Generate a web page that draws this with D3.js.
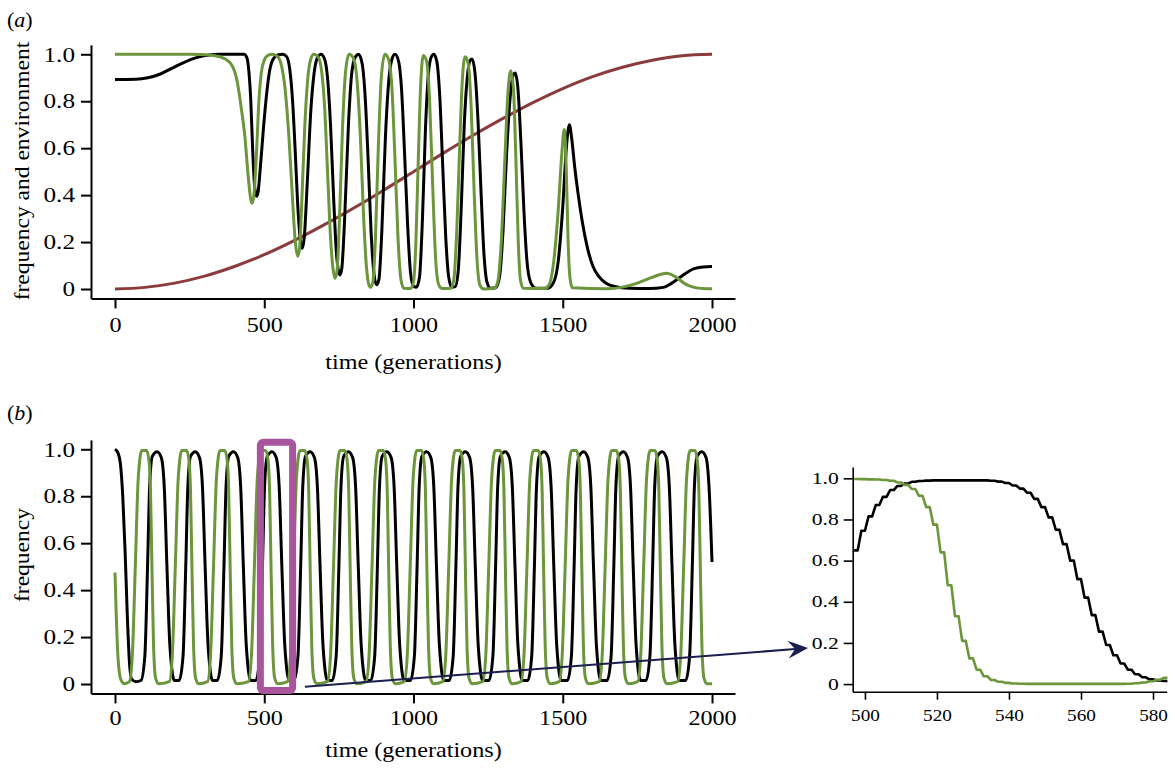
<!DOCTYPE html>
<html><head><meta charset="utf-8">
<script src="https://cdn.jsdelivr.net/npm/d3@7"></script>
<style>body{margin:0;background:#fff}svg{display:block}</style>
</head><body><svg id="c" width="1175" height="771"></svg>
<script>
// ---------- data ----------
const xTicksMain = [0, 500, 1000, 1500, 2000];
const yTicksMain = [0, 0.2, 0.4, 0.6, 0.8, 1.0];
const xTicksInset = [500, 520, 540, 560, 580];
const yTicksInset = [0, 0.2, 0.4, 0.6, 0.8, 1.0];

// panel (a): environment (red)
const aEnvironment = [[0,0],[100,.007],[200,.025],[300,.055],[400,.096],[500,.146],[600,.206],[700,.273],[800,.345],[900,.421],[1000,.5],[1100,.579],[1200,.655],[1300,.727],[1400,.794],[1500,.854],[1600,.905],[1700,.945],[1800,.975],[1900,.994],[2000,1]];
// panel (a): black genotype
const aBlack = [[0,.893],[70,.894],[110,.9],[150,.915],[190,.94],[230,.965],[270,.985],[310,.996],[350,1],[432,1],[442,.985],[449,.92],[455,.8],[461,.6],[467,.45],[474,.395],[479,.41],[487,.52],[497,.68],[507,.82],[518,.93],[530,.98],[545,.997],[562,1],[575,.99],[585,.94],[595,.8],[604,.58],[612,.36],[620,.22],[627,.173],[634,.22],[644,.45],[656,.76],[668,.93],[680,.99],[690,1],[702,.98],[712,.9],[722,.7],[732,.4],[742,.15],[749,.075],[754,.06],[760,.09],[770,.32],[782,.7],[794,.93],[806,.99],[816,1],[828,.96],[838,.82],[848,.55],[858,.24],[868,.06],[876,.018],[884,.04],[894,.25],[906,.65],[918,.9],[928,.98],[938,1],[950,.97],[960,.85],[970,.58],[980,.28],[990,.07],[1000,.012],[1010,.008],[1020,.05],[1030,.3],[1040,.68],[1050,.92],[1060,.99],[1068,1],[1078,.97],[1088,.82],[1098,.52],[1108,.22],[1118,.05],[1128,.008],[1140,.01],[1150,.08],[1160,.35],[1170,.7],[1180,.9],[1190,.975],[1196,.98],[1206,.92],[1216,.72],[1226,.42],[1236,.15],[1246,.03],[1258,.003],[1275,.005],[1288,.05],[1300,.25],[1312,.58],[1324,.82],[1334,.91],[1341,.92],[1350,.85],[1360,.62],[1370,.33],[1380,.12],[1392,.03],[1410,.003],[1450,.003],[1470,.03],[1485,.12],[1500,.35],[1512,.6],[1522,.7],[1530,.64],[1540,.52],[1552,.4],[1565,.29],[1580,.19],[1600,.1],[1620,.055],[1645,.025],[1670,.012],[1725,.003],[1790,.002],[1837,.007],[1865,.025],[1893,.05],[1938,.086],[1970,.094],[2000,.096]];
// panel (a): green genotype
const aGreen = [[0,1],[250,1],[330,.995],[370,.98],[395,.945],[410,.88],[422,.78],[435,.65],[447,.47],[455,.38],[460,.365],[466,.41],[474,.58],[482,.8],[490,.92],[500,.975],[512,.995],[528,1],[545,.99],[558,.95],[570,.85],[582,.66],[594,.4],[604,.2],[612,.14],[618,.17],[626,.38],[636,.7],[646,.9],[656,.98],[666,1],[680,.99],[692,.93],[702,.78],[712,.5],[722,.22],[730,.09],[737,.046],[744,.08],[752,.3],[762,.68],[772,.92],[784,1],[798,.985],[810,.9],[822,.65],[832,.33],[842,.1],[850,.02],[856,.007],[864,.03],[872,.2],[882,.6],[892,.9],[904,1],[916,.98],[928,.85],[938,.55],[948,.22],[958,.04],[968,.003],[990,.002],[1000,.03],[1008,.2],[1016,.55],[1024,.87],[1033,.995],[1044,.97],[1054,.8],[1064,.45],[1074,.13],[1084,.02],[1095,.002],[1125,.003],[1135,.04],[1145,.25],[1155,.62],[1164,.9],[1173,.99],[1183,.96],[1193,.78],[1203,.42],[1213,.12],[1223,.015],[1235,0],[1270,.002],[1282,.03],[1294,.2],[1306,.55],[1316,.83],[1326,.93],[1335,.85],[1343,.55],[1351,.2],[1358,.04],[1368,.003],[1440,.002],[1455,.02],[1470,.12],[1485,.34],[1497,.58],[1505,.68],[1512,.5],[1518,.2],[1524,.05],[1532,.005],[1650,.001],[1700,.008],[1750,.025],[1800,.05],[1848,.067],[1880,.05],[1910,.022],[1940,.007],[1970,.002],[2000,.001]];

// panel (b): black genotype
const bBlack = [[0,1],[10,.985],[18,.94],[26,.8],[34,.56],[41,.3],[48,.1],[56,.02],[70,.01],
[87,.015],[100,.12],[109,.5],[116,.84],[125,.97],[141,.99],[155,.965],[165,.84],[174,.5],[184,.16],[199,.015],
[215,.015],[228,.12],[237,.5],[244,.84],[253,.97],[269,.99],[283,.965],[293,.84],[302,.5],[312,.16],[327,.015],
[343,.015],[356,.12],[365,.5],[372,.84],[381,.97],[397,.99],[411,.965],[421,.84],[430,.5],[440,.16],[455,.015],
[472,.015],[485,.12],[494,.5],[501,.84],[510,.97],[526,.99],[540,.965],[550,.84],[559,.5],[569,.16],[584,.015],
[600,.015],[613,.12],[622,.5],[629,.84],[638,.97],[654,.99],[668,.965],[678,.84],[687,.5],[697,.16],[712,.015],
[728,.015],[741,.12],[750,.5],[757,.84],[766,.97],[782,.99],[796,.965],[806,.84],[815,.5],[825,.16],[840,.015],
[857,.015],[870,.12],[879,.5],[886,.84],[895,.97],[911,.99],[925,.965],[935,.84],[944,.5],[954,.16],[969,.015],
[990,.015],[1003,.12],[1012,.5],[1019,.84],[1028,.97],[1044,.99],[1058,.965],[1068,.84],[1077,.5],[1087,.16],[1102,.015],
[1120,.015],[1133,.12],[1142,.5],[1149,.84],[1158,.97],[1174,.99],[1188,.965],[1198,.84],[1207,.5],[1217,.16],[1232,.015],
[1253,.015],[1266,.12],[1275,.5],[1282,.84],[1291,.97],[1307,.99],[1321,.965],[1331,.84],[1340,.5],[1350,.16],[1365,.015],
[1383,.015],[1396,.12],[1405,.5],[1412,.84],[1421,.97],[1437,.99],[1451,.965],[1461,.84],[1470,.5],[1480,.16],[1495,.015],
[1516,.015],[1529,.12],[1538,.5],[1545,.84],[1554,.97],[1570,.99],[1584,.965],[1594,.84],[1603,.5],[1613,.16],[1628,.015],
[1649,.015],[1662,.12],[1671,.5],[1678,.84],[1687,.97],[1703,.99],[1717,.965],[1727,.84],[1736,.5],[1746,.16],[1761,.015],
[1779,.015],[1792,.12],[1801,.5],[1808,.84],[1817,.97],[1833,.99],[1847,.965],[1857,.84],[1866,.5],[1876,.16],[1891,.015],
[1912,.015],[1925,.12],[1934,.5],[1941,.84],[1950,.97],[1966,.99],[1980,.965],[1990,.84],[2000,.52]];
// panel (b): green genotype
const bGreen = [[0,.475],[4,.3],[8,.16],[12,.08],[17,.03],[24,.008],[32,.001],
[48,.01],[58,.12],[68,.5],[78,.88],[90,.995],[106,.995],[114,.95],[119,.82],[124,.48],[129,.17],[136,.025],[146,.001],
[182,.01],[192,.12],[202,.5],[212,.88],[224,.995],[240,.995],[248,.95],[253,.82],[258,.48],[263,.17],[270,.025],[280,.001],
[310,.01],[320,.12],[330,.5],[340,.88],[352,.995],[368,.995],[376,.95],[381,.82],[386,.48],[391,.17],[398,.025],[408,.001],
[447,.01],[457,.12],[467,.5],[477,.88],[489,.995],[505,.995],[513,.95],[518,.82],[523,.48],[528,.17],[535,.025],[545,.001],
[578,.01],[588,.12],[598,.5],[608,.88],[620,.995],[636,.995],[644,.95],[649,.82],[654,.48],[659,.17],[666,.025],[676,.001],
[712,.01],[722,.12],[732,.5],[742,.88],[754,.995],[770,.995],[778,.95],[783,.82],[788,.48],[793,.17],[800,.025],[810,.001],
[841,.01],[851,.12],[861,.5],[871,.88],[883,.995],[899,.995],[907,.95],[912,.82],[917,.48],[922,.17],[929,.025],[939,.001],
[969,.01],[979,.12],[989,.5],[999,.88],[1011,.995],[1027,.995],[1035,.95],[1040,.82],[1045,.48],[1050,.17],[1057,.025],[1067,.001],
[1098,.01],[1108,.12],[1118,.5],[1128,.88],[1140,.995],[1156,.995],[1164,.95],[1169,.82],[1174,.48],[1179,.17],[1186,.025],[1196,.001],
[1232,.01],[1242,.12],[1252,.5],[1262,.88],[1274,.995],[1290,.995],[1298,.95],[1303,.82],[1308,.48],[1313,.17],[1320,.025],[1330,.001],
[1360,.01],[1370,.12],[1380,.5],[1390,.88],[1402,.995],[1418,.995],[1426,.95],[1431,.82],[1436,.48],[1441,.17],[1448,.025],[1458,.001],
[1488,.01],[1498,.12],[1508,.5],[1518,.88],[1530,.995],[1546,.995],[1554,.95],[1559,.82],[1564,.48],[1569,.17],[1576,.025],[1586,.001],
[1622,.01],[1632,.12],[1642,.5],[1652,.88],[1664,.995],[1680,.995],[1688,.95],[1693,.82],[1698,.48],[1703,.17],[1710,.025],[1720,.001],
[1751,.01],[1761,.12],[1771,.5],[1781,.88],[1793,.995],[1809,.995],[1817,.95],[1822,.82],[1827,.48],[1832,.17],[1839,.025],[1849,.001],
[1885,.01],[1895,.12],[1905,.5],[1915,.88],[1927,.995],[1943,.995],[1951,.95],[1956,.82],[1961,.48],[1966,.17],[1973,.025],[1983,.001],[2000,.001]];

// inset: generations 497..583 (every 2nd), frequencies
const insetGens = [497,499,501,503,505,507,509,511,513,515,517,519,521,523,525,527,529,531,533,535,537,539,541,543,545,547,549,551,553,555,557,559,561,563,565,567,569,571,573,575,577,579,581,583];
const insetBlack = [.65,.745,.815,.87,.91,.943,.963,.975,.983,.987,.989,.99,.99,.99,.99,.99,.99,.99,.99,.988,.984,.977,.965,.95,.93,.9,.86,.81,.75,.68,.6,.51,.42,.335,.255,.19,.14,.1,.07,.048,.033,.023,.018,.015];
const insetGreen = [.997,.996,.995,.994,.992,.988,.98,.968,.948,.915,.86,.775,.64,.48,.33,.21,.125,.07,.038,.02,.011,.006,.003,.002,.001,.001,.001,.001,.001,.001,.001,.001,.001,.001,.001,.001,.001,.001,.002,.004,.008,.014,.021,.03];

const zoomWindow = {t0: 487, t1: 595, v0: -0.028, v1: 1.03};

// ---------- drawing ----------
const svg = d3.select('#c');
const FONT = '"Liberation Serif","Times New Roman",serif';
const C_GREEN = '#6b963c', C_BLACK = '#000', C_RED = '#8b3b3b', C_PURPLE = '#a8559e', C_NAVY = '#1c1f4d';
const fmt = d => d === 0 ? '0' : d3.format('.1f')(d);

function styleAxis(g, fs, w, stretch) {
  g.attr('font-family', FONT).attr('font-size', fs);
  g.select('.domain').attr('stroke-width', w);
  g.selectAll('.tick line').attr('stroke-width', w);
  g.selectAll('.tick text').attr('fill', '#000').attr('data-stretch', stretch);
}

function mainPanel(top, series, ylabel, tag, o) {
  const x = d3.scaleLinear().domain([-80.4, 2077]).range([91, 735]);
  const y = d3.scaleLinear().domain([-0.04, 1.04]).range([top + 298.4, top + 44.9]);
  const gx = svg.append('g').attr('transform', `translate(0,${y(-0.04)})`)
    .call(d3.axisBottom(x).tickValues(xTicksMain).tickSize(10).tickSizeOuter(0).tickPadding(o.xpad).tickFormat(d3.format('d')));
  styleAxis(gx, 21, 2, 1.15);
  const gy = svg.append('g').attr('transform', `translate(${x(-80.4)},0)`)
    .call(d3.axisLeft(y).tickValues(yTicksMain).tickSize(10).tickSizeOuter(0).tickPadding(6).tickFormat(fmt));
  styleAxis(gy, 21, 2, 1.2);
  const line = d3.line().x(d => x(d[0])).y(d => y(d[1])).curve(d3.curveMonotoneX);
  series.forEach(s => {
    svg.append('path').datum(s.data).attr('d', line).attr('fill', 'none')
      .attr('stroke', s.color).attr('stroke-width', 3).attr('stroke-linejoin', 'round');
  });
  svg.append('text').attr('x', x(1000)).attr('y', o.xlabY).attr('text-anchor', 'middle')
    .attr('font-family', FONT).attr('font-size', 21).attr('data-stretch', 1.15).text('time (generations)');
  svg.append('text').attr('transform', `translate(29,${o.ylabC}) rotate(-90)`).attr('text-anchor', 'middle')
    .attr('font-family', FONT).attr('font-size', 21).attr('data-stretch', 1.12).text(ylabel);
  const t = svg.append('text').attr('x', 7).attr('y', o.tagY).attr('font-family', FONT).attr('font-size', 22);
  t.append('tspan').text('(');
  t.append('tspan').attr('font-style', 'italic').text(tag);
  t.append('tspan').text(')');
  return {x, y};
}

const A = mainPanel(0, [
  {data: aEnvironment, color: C_RED},
  {data: aBlack, color: C_BLACK},
  {data: aGreen, color: C_GREEN}
], 'frequency and environment', 'a', {xpad: 9, xlabY: 369, ylabC: 171, tagY: 27});

const B = mainPanel(395, [
  {data: bBlack, color: C_BLACK},
  {data: bGreen, color: C_GREEN}
], 'frequency', 'b', {xpad: 7, xlabY: 757, ylabC: 555, tagY: 420});

// zoom window rectangle on panel b
svg.append('rect')
  .attr('x', B.x(zoomWindow.t0)).attr('y', B.y(zoomWindow.v1))
  .attr('width', B.x(zoomWindow.t1) - B.x(zoomWindow.t0))
  .attr('height', B.y(zoomWindow.v0) - B.y(zoomWindow.v1))
  .attr('rx', 3).attr('fill', 'none').attr('stroke', C_PURPLE).attr('stroke-width', 7);

// inset
const xi = d3.scaleLinear().domain([496.6, 583.8]).range([852.7, 1166.7]);
const yi = d3.scaleLinear().domain([-0.037, 1.055]).range([691.7, 467]);
const gxi = svg.append('g').attr('transform', `translate(0,${yi(-0.037)})`)
  .call(d3.axisBottom(xi).tickValues(xTicksInset).tickSize(8).tickSizeOuter(0).tickPadding(10).tickFormat(d3.format('d')));
styleAxis(gxi, 16, 1.6, 1.2);
const gyi = svg.append('g').attr('transform', `translate(${xi(496.6)},0)`)
  .call(d3.axisLeft(yi).tickValues(yTicksInset).tickSize(9).tickSizeOuter(0).tickPadding(5).tickFormat(fmt));
styleAxis(gyi, 16, 1.6, 1.35);

svg.append('clipPath').attr('id', 'ic').append('rect')
  .attr('x', xi(496.6)).attr('y', 440).attr('width', xi(583.8) - xi(496.6) + 2).attr('height', 260);

function stair(vals) {
  const pts = [];
  insetGens.forEach((g, i) => { pts.push([g, vals[i]]); pts.push([g + 1, vals[i]]); });
  return pts;
}
const li = d3.line().x(d => xi(d[0])).y(d => yi(d[1]));
[[insetBlack, C_BLACK], [insetGreen, C_GREEN]].forEach(([v, c]) => {
  svg.append('path').datum(stair(v)).attr('d', li).attr('fill', 'none').attr('stroke', c)
    .attr('stroke-width', 2.6).attr('stroke-linejoin', 'round').attr('clip-path', 'url(#ic)');
});

// arrow from zoom window to inset
const p0 = [B.x(636), B.y(-0.012)];
const p1 = [xi(484.2), yi(0.175)];
const ang = Math.atan2(p1[1] - p0[1], p1[0] - p0[0]);
const L = 20, Wd = 9, notch = 7;
const back = [p1[0] - L * Math.cos(ang), p1[1] - L * Math.sin(ang)];
svg.append('line').attr('x1', p0[0]).attr('y1', p0[1])
  .attr('x2', p1[0] - (L - notch) * Math.cos(ang)).attr('y2', p1[1] - (L - notch) * Math.sin(ang))
  .attr('stroke', C_NAVY).attr('stroke-width', 2);
const nx = -Math.sin(ang), ny = Math.cos(ang);
const head = [
  p1,
  [back[0] + Wd * nx, back[1] + Wd * ny],
  [p1[0] - (L - notch) * Math.cos(ang), p1[1] - (L - notch) * Math.sin(ang)],
  [back[0] - Wd * nx, back[1] - Wd * ny]
];
svg.append('path').attr('d', 'M' + head.map(p => p.join(',')).join('L') + 'Z').attr('fill', C_NAVY);

// horizontal stretch of the (wide) serif lettering used in the original
svg.selectAll('text[data-stretch]').each(function () {
  const f = +this.getAttribute('data-stretch');
  const len = this.getComputedTextLength();
  this.setAttribute('textLength', (len * f).toFixed(1));
  this.setAttribute('lengthAdjust', 'spacingAndGlyphs');
});
</script>
</body></html>
